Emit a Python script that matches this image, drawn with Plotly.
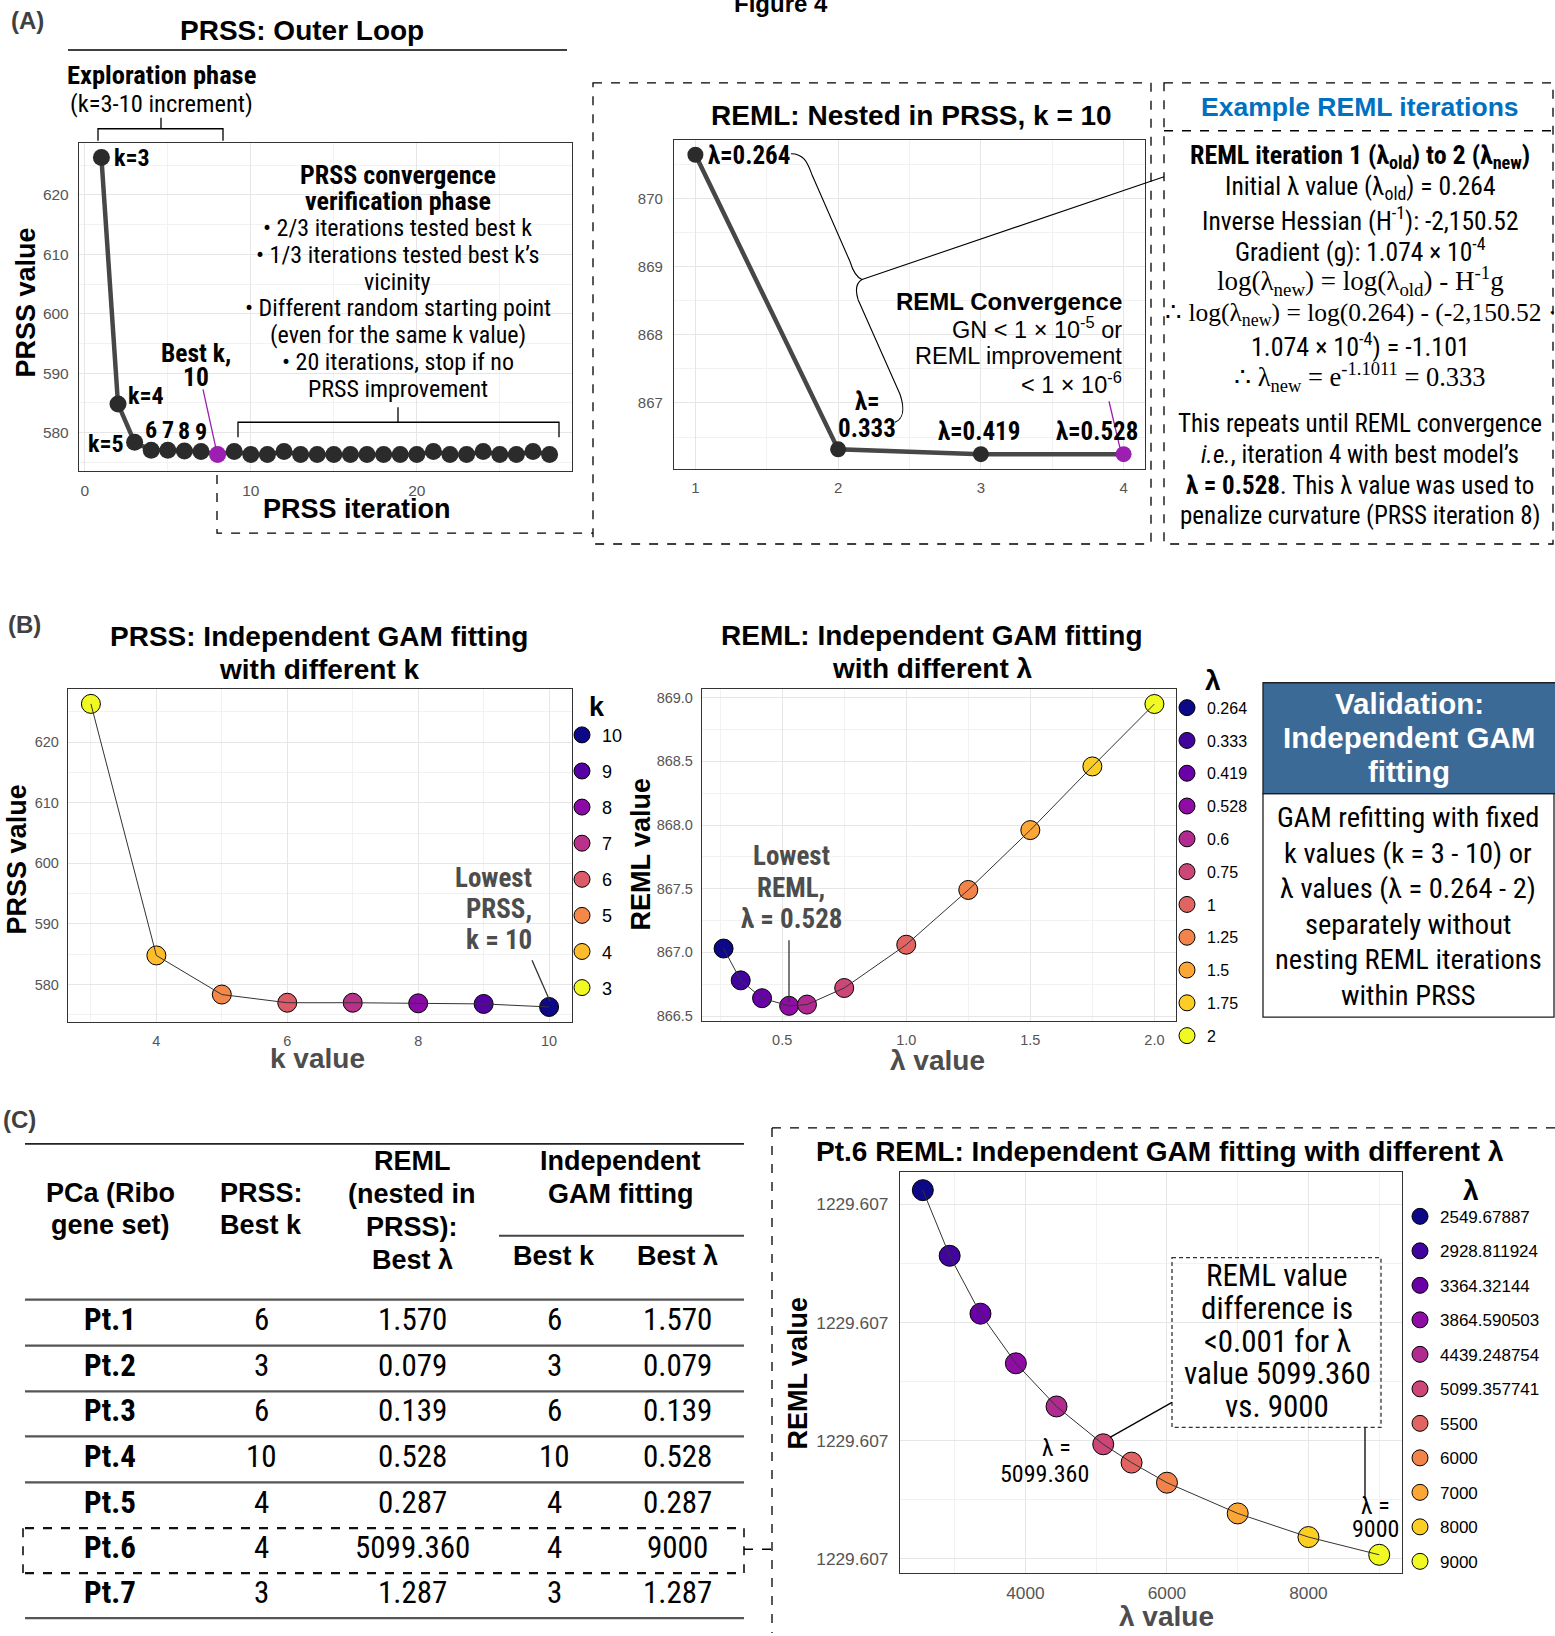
import plotly.graph_objects as go

# ---------------- data ----------------
prss_iteration = list(range(1, 29))
prss_outer_values = [626.3, 584.8, 578.35, 577.0, 577.0, 576.9, 576.8, 576.3,
                     576.8, 576.3, 576.3, 576.8, 576.3, 576.3, 576.3, 576.3,
                     576.3, 576.3, 576.3, 576.3, 576.8, 576.3, 576.3, 576.8,
                     576.3, 576.3, 576.8, 576.3]
best_iteration = 8
explore_labels = ["6", "7", "8", "9"]
explore_label_iters = [4, 5, 6, 7]

reml_iteration = [1, 2, 3, 4]
reml_nested_values = [870.64, 866.32, 866.25, 866.25]

k_values = [3, 4, 5, 6, 7, 8, 9, 10]
prss_k_values = [626.3, 584.8, 578.35, 577.0, 577.0, 576.9, 576.8, 576.3]
k_colors = ["#F0F921", "#FEBC2A", "#F48849", "#DB5C68", "#B93289", "#8B0AA5", "#5402A3", "#0D0887"]

lambda_values = [0.264, 0.333, 0.419, 0.528, 0.6, 0.75, 1.0, 1.25, 1.5, 1.75, 2.0]
lambda_labels = ["0.264", "0.333", "0.419", "0.528", "0.6", "0.75", "1", "1.25", "1.5", "1.75", "2"]
reml_lambda_values = [867.03, 866.78, 866.64, 866.58, 866.59, 866.72, 867.06, 867.49, 867.96, 868.46, 868.95]
plasma11 = ["#0D0887", "#41049D", "#6A00A8", "#8F0DA4", "#B12A90", "#CC4778",
            "#E16462", "#F2844B", "#FCA636", "#FCCE25", "#F0F921"]

pt6_lambda = [2549.67887, 2928.811924, 3364.32144, 3864.590503, 4439.248754, 5099.357741,
              5500, 6000, 7000, 8000, 9000]
pt6_lambda_labels = ["2549.67887", "2928.811924", "3364.32144", "3864.590503", "4439.248754",
                     "5099.357741", "5500", "6000", "7000", "8000", "9000"]
pt6_reml = [1229.607424, 1229.607313, 1229.607215, 1229.607131, 1229.607058, 1229.606994,
            1229.606963, 1229.606929, 1229.606877, 1229.606837, 1229.606807]
pt6_ytick_vals = [1229.6068, 1229.6070, 1229.6072, 1229.6074]
pt6_ytick_text = ["1229.607", "1229.607", "1229.607", "1229.607"]

table_patients = ["Pt.1", "Pt.2", "Pt.3", "Pt.4", "Pt.5", "Pt.6", "Pt.7"]
table_prss_best_k = ["6", "3", "6", "10", "4", "4", "3"]
table_reml_best_lambda = ["1.570", "0.079", "0.139", "0.528", "0.287", "5099.360", "1.287"]
table_gam_best_k = ["6", "3", "6", "10", "4", "4", "3"]
table_gam_best_lambda = ["1.570", "0.079", "0.139", "0.528", "0.287", "9000", "1.287"]

# ---------------- helpers ----------------
W, H = 1555, 1636
def px(x): return x / W
def py(y): return 1 - y / H

NARROW = "Liberation Sans Narrow, Arial Narrow, Roboto Condensed, Liberation Sans, sans-serif"
SANS = "Liberation Sans, Arial, sans-serif"
SERIF = "Liberation Serif, DejaVu Serif, serif"
PURPLE = "#9B1FB0"
DARK = "#2B2B2B"
GRAY = "#4D4D4D"

anns = []
shapes = []

def T(x, y, text, size=23, color="black", family=NARROW, xa="center", ya="middle", bold=False, angle=0):
    if bold:
        text = "<b>" + text + "</b>"
    anns.append(dict(x=px(x), y=py(y), xref="paper", yref="paper", text=text, showarrow=False,
                     font=dict(size=size, color=color, family=family), xanchor=xa, yanchor=ya,
                     textangle=angle))

def L(x0, y0, x1, y1, color="black", width=1.5, dash="solid"):
    shapes.append(dict(type="line", xref="paper", yref="paper", x0=px(x0), y0=py(y0), x1=px(x1), y1=py(y1),
                       line=dict(color=color, width=width, dash=dash)))

def R(x0, y0, x1, y1, color="black", width=1.5, dash="solid", fill=None):
    d = dict(type="rect", xref="paper", yref="paper", x0=px(x0), y0=py(y0), x1=px(x1), y1=py(y1),
             line=dict(color=color, width=width, dash=dash))
    if fill:
        d["fillcolor"] = fill
    shapes.append(d)

def P(segs, color="black", width=1.2, dash="solid"):
    s = ""
    for cmd, pts in segs:
        s += cmd + " " + " ".join(f"{px(a):.5f},{py(b):.5f}" for a, b in pts) + " "
    shapes.append(dict(type="path", xref="paper", yref="paper", path=s.strip(),
                       line=dict(color=color, width=width, dash=dash)))

def poly(pts, **kw):
    P([("M", [pts[0]])] + [("L", [p]) for p in pts[1:]], **kw)

def dom(l, r, t, b):
    return [px(l), px(r)], [py(b), py(t)]

def axis(domain, rng, dtick=None, tick0=0, minor=None, fmt=None, tickvals=None, ticktext=None,
         minor_vals=None, tsize=15, standoff=6):
    a = dict(domain=domain, range=rng, showline=True, mirror=True, linecolor="#333333", linewidth=1.3,
             showgrid=True, gridcolor="#E6E6E6", gridwidth=1.3, zeroline=False, ticks="",
             tickfont=dict(size=tsize, color="#555555", family=SANS), ticklabelstandoff=standoff,
             fixedrange=True)
    if tickvals is not None:
        a.update(tickmode="array", tickvals=tickvals, ticktext=ticktext)
        a["minor"] = dict(showgrid=True, gridcolor="#F2F2F2", gridwidth=1, tickvals=minor_vals)
    else:
        a.update(tickmode="linear", tick0=tick0, dtick=dtick)
        a["minor"] = dict(showgrid=True, gridcolor="#F2F2F2", gridwidth=1, dtick=minor, tick0=tick0)
    if fmt:
        a["tickformat"] = fmt
    return a

fig = go.Figure()

# ---------------- Panel A1: PRSS outer loop ----------------
dx, dy = dom(79, 572, 143, 472)
fig.update_layout(xaxis=axis(dx, [-0.35, 29.35], 10, 0, 5, tsize=15.5, standoff=5),
                  yaxis=axis(dy, [573.5, 628.8], 10, 0, 5, tsize=15.5, standoff=6))
fig.layout.xaxis.anchor = "y"; fig.layout.yaxis.anchor = "x"
a1_colors = [PURPLE if i == best_iteration else DARK for i in prss_iteration]
fig.add_trace(go.Scatter(x=prss_iteration, y=prss_outer_values, mode="lines+markers",
                         line=dict(color="#474747", width=4.5),
                         marker=dict(size=17, color=a1_colors), xaxis="x", yaxis="y", showlegend=False))
for lab, it in zip(explore_labels, explore_label_iters):
    anns.append(dict(x=it, y=prss_outer_values[it - 1], xref="x", yref="y", text="<b>" + lab + "</b>",
                     showarrow=False, yshift=20, font=dict(size=24, family=NARROW, color="black")))
anns.append(dict(x=1, y=prss_outer_values[0], xref="x", yref="y", text="<b>k=3</b>", showarrow=False,
                 xanchor="left", xshift=11, font=dict(size=24, family=NARROW, color="black")))
anns.append(dict(x=2, y=prss_outer_values[1], xref="x", yref="y", text="<b>k=4</b>", showarrow=False,
                 xanchor="left", xshift=8, yshift=8, font=dict(size=24, family=NARROW, color="black")))
anns.append(dict(x=3, y=prss_outer_values[2], xref="x", yref="y", text="<b>k=5</b>", showarrow=False,
                 xanchor="right", xshift=-9, yshift=-2, font=dict(size=24, family=NARROW, color="black")))

# ---------------- Panel A2: REML nested ----------------
dx, dy = dom(674, 1145, 140, 470)
fig.update_layout(xaxis2=axis(dx, [0.85, 4.15], 1, 0, 0.5, tsize=15, standoff=5),
                  yaxis2=axis(dy, [866.03, 870.86], 1, 0, 0.5, tsize=15, standoff=7))
fig.layout.xaxis2.anchor = "y2"; fig.layout.yaxis2.anchor = "x2"
a2_colors = [PURPLE if i == reml_iteration[-1] else DARK for i in reml_iteration]
fig.add_trace(go.Scatter(x=reml_iteration, y=reml_nested_values, mode="lines+markers",
                         line=dict(color="#474747", width=4.5),
                         marker=dict(size=16, color=a2_colors), xaxis="x2", yaxis="y2", showlegend=False))

# ---------------- Panel B1: PRSS vs k ----------------
dx, dy = dom(68, 572, 690, 1024)
fig.update_layout(xaxis3=axis(dx, [2.65, 10.35], 2, 0, 1, tsize=14.5, standoff=5),
                  yaxis3=axis(dy, [573.8, 628.8], 10, 0, 5, tsize=14.5, standoff=5))
fig.layout.xaxis3.anchor = "y3"; fig.layout.yaxis3.anchor = "x3"
for kv, pv, c in sorted(zip(k_values, prss_k_values, k_colors), key=lambda t: -t[0]):
    fig.add_trace(go.Scatter(x=[kv], y=[pv], mode="markers", name=str(kv), legendgroup="k" + str(kv),
                             marker=dict(size=19, color=c, line=dict(color="black", width=1)),
                             xaxis="x3", yaxis="y3", legend="legend"))
fig.add_trace(go.Scatter(x=k_values, y=prss_k_values, mode="lines", line=dict(color="#333333", width=1),
                         xaxis="x3", yaxis="y3", showlegend=False))

# ---------------- Panel B2: REML vs lambda ----------------
dx, dy = dom(702, 1176, 690, 1023)
fig.update_layout(xaxis4=axis(dx, [0.177, 2.087], 0.5, 0, 0.25, fmt=".1f", tsize=14.5, standoff=5),
                  yaxis4=axis(dy, [866.46, 869.07], 0.5, 0, 0.25, fmt=".1f", tsize=14.5, standoff=5))
fig.layout.xaxis4.anchor = "y4"; fig.layout.yaxis4.anchor = "x4"
for lv, rv, lab, c in zip(lambda_values, reml_lambda_values, lambda_labels, plasma11):
    fig.add_trace(go.Scatter(x=[lv], y=[rv], mode="markers", name=lab, legendgroup="l" + lab,
                             marker=dict(size=19, color=c, line=dict(color="black", width=1)),
                             xaxis="x4", yaxis="y4", legend="legend2"))
fig.add_trace(go.Scatter(x=lambda_values, y=reml_lambda_values, mode="lines", line=dict(color="#333333", width=1),
                         xaxis="x4", yaxis="y4", showlegend=False))

# ---------------- Panel C: Pt.6 ----------------
dx, dy = dom(900, 1402, 1174, 1576)
minor_y = [v + 0.0001 for v in pt6_ytick_vals[:-1]] + [pt6_ytick_vals[0] - 0.0001]
fig.update_layout(xaxis5=axis(dx, [2227, 9322], 2000, 0, 1000, tsize=17.3, standoff=4),
                  yaxis5=axis(dy, [1229.606776, 1229.607455], tickvals=pt6_ytick_vals,
                              ticktext=pt6_ytick_text, minor_vals=minor_y, tsize=17.3, standoff=7))
fig.layout.xaxis5.anchor = "y5"; fig.layout.yaxis5.anchor = "x5"
for lv, rv, lab, c in zip(pt6_lambda, pt6_reml, pt6_lambda_labels, plasma11):
    fig.add_trace(go.Scatter(x=[lv], y=[rv], mode="markers", name=lab, legendgroup="p" + lab,
                             marker=dict(size=21, color=c, line=dict(color="black", width=1)),
                             xaxis="x5", yaxis="y5", legend="legend3"))
fig.add_trace(go.Scatter(x=pt6_lambda, y=pt6_reml, mode="lines", line=dict(color="#333333", width=1),
                         xaxis="x5", yaxis="y5", showlegend=False))

# ---------------- Panel A annotations ----------------
T(781, 4, "Figure 4", 24, bold=True, family=SANS)
T(27, 21, "(A)", 24, color="#404040", bold=True, family=SANS)
T(302, 31, "PRSS: Outer Loop", 28, bold=True, family=SANS)
L(68, 50, 567, 50, width=1.5)
T(161, 75, "Exploration phase", 26.5, bold=True)
T(161, 104, "(k=3-10 increment)", 24.5)
poly([(98, 141), (98, 129), (223, 129), (223, 141)], width=1.3)
L(161, 129, 161, 118, width=1.3)
T(196, 354, "Best k,", 25.5, bold=True)
T(196, 378, "10", 25.5, bold=True)
L(203, 390, 217, 454, color=PURPLE, width=1.3)
blk = [("PRSS convergence", True), ("verification phase", True), ("• 2/3 iterations tested best k", False),
       ("• 1/3 iterations tested best k’s", False), ("vicinity", False),
       ("• Different random starting point", False), ("(even for the same k value)", False),
       ("• 20 iterations, stop if no", False), ("PRSS improvement", False)]
for i, (t, b) in enumerate(blk):
    T(398, 175 + i * 26.8, t, 26 if b else 24, bold=b)
poly([(238, 438), (238, 423), (559, 423), (559, 438)], width=1.3)
L(398, 423, 398, 408, width=1.3)
T(26, 303, "PRSS value", 27, bold=True, family=SANS, angle=-90)
T(357, 510, "PRSS iteration", 27, bold=True, family=SANS)
poly([(217, 476), (217, 534), (593, 534)], width=1.3, dash="dash")

# REML nested
R(593, 83, 1151, 545, width=1.3, dash="dash")
T(911, 116, "REML: Nested in PRSS, k = 10", 28, bold=True, family=SANS)
T(706, 156, "λ=0.264", 25, bold=True, xa="left")
T(867, 402, "λ=", 25, bold=True)
T(867, 429, "0.333", 25, bold=True)
T(979, 432, "λ=0.419", 25, bold=True)
T(1097, 432, "λ=0.528", 25, bold=True)
T(1124, 302, "REML Convergence", 24, bold=True, xa="right", family=SANS)
T(1124, 329, "GN &lt; 1 × 10<sup>-5</sup> or", 23.5, xa="right", family=SANS)
T(1124, 357, "REML improvement", 23.5, xa="right", family=SANS)
T(1124, 384, "&lt; 1 × 10<sup>-6</sup>", 23.5, xa="right", family=SANS)
L(1109, 402, 1120, 449, color=PURPLE, width=1.3)
P([("M", [(791, 154)]), ("C", [(805, 154), (808, 165), (812, 175)]), ("L", [(850, 262)]),
   ("C", [(853, 272), (857, 278), (862, 280)]), ("C", [(857, 283), (855, 290), (858, 300)]),
   ("L", [(900, 395)]), ("C", [(905, 410), (903, 420), (895, 423)])], width=1.1)
L(862, 280, 1164, 177, width=1.1)

# Example REML iterations
R(1164, 83, 1553, 545, width=1.3, dash="dash")
L(1164, 131, 1553, 131, width=1.3, dash="dash")
T(1360, 107, "Example REML iterations", 26.5, color="#0070C0", bold=True, family=SANS)
ex_lines = [
    (157, "<b>REML iteration 1 (λ<sub>old</sub>) to 2 (λ<sub>new</sub>)</b>", NARROW, 26),
    (188, "Initial λ value (λ<sub>old</sub>) = 0.264", NARROW, 25.5),
    (219, "Inverse Hessian (H<sup>-1</sup>): -2,150.52", NARROW, 25.5),
    (250, "Gradient (g): 1.074 × 10<sup>-4</sup>", NARROW, 25.5),
    (282, "log(λ<sub>new</sub>) = log(λ<sub>old</sub>) - H<sup>-1</sup>g", SERIF, 27),
    (315, "∴ log(λ<sub>new</sub>) = log(0.264) - (-2,150.52 ·", SERIF, 25.5),
    (346, "1.074 × 10<sup>-4</sup>) = -1.101", NARROW, 26),
    (378, "∴ λ<sub>new</sub> = e<sup>-1.1011</sup> = 0.333", SERIF, 26.5),
    (424, "This repeats until REML convergence", NARROW, 25),
    (455, "<i>i.e.</i>, iteration 4 with best model’s", NARROW, 25),
    (486, "<b>λ = 0.528</b>. This λ value was used to", NARROW, 25),
    (516, "penalize curvature (PRSS iteration 8)", NARROW, 25),
]
for y, t, fam, sz in ex_lines:
    T(1360, y, t, sz, family=fam)

# ---------------- Panel B annotations ----------------
T(24, 626, "(B)", 24, color="#404040", bold=True, family=SANS)
T(319, 638, "PRSS: Independent GAM fitting", 28, bold=True, family=SANS)
T(319, 671, "with different k", 28, bold=True, family=SANS)
T(17, 861, "PRSS value", 27, bold=True, family=SANS, angle=-90)
T(317, 1060, "k value", 28, bold=True, family=SANS, color=GRAY)
for i, t in enumerate(["Lowest", "PRSS,", "k = 10"]):
    T(534, 880 + i * 31, t, 27, bold=True, color=GRAY, xa="right")
L(532, 962, 550, 1003, color="#333333", width=1.3)
T(597, 708, "k", 27, bold=True, family=SANS)

T(932, 637, "REML: Independent GAM fitting", 28, bold=True, family=SANS)
T(932, 670, "with different λ", 28, bold=True, family=SANS)
T(641, 856, "REML value", 27, bold=True, family=SANS, angle=-90)
T(937, 1062, "λ value", 28, bold=True, family=SANS, color=GRAY)
for i, t in enumerate(["Lowest", "REML,", "λ = 0.528"]):
    T(791, 858 + i * 31.5, t, 27, bold=True, color=GRAY)
L(789, 942, 789, 1004, color="#333333", width=1.3)
T(1213, 682, "λ", 28, bold=True, family=SANS)

# Validation box
R(1263, 684, 1556, 795, color="#1F1F1F", width=1.3, fill="#3C6A96")
R(1263, 795, 1554, 1019, color="#1F1F1F", width=1.3)
for i, t in enumerate(["Validation:", "Independent GAM", "fitting"]):
    T(1409, 705 + i * 34, t, 29.5, bold=True, color="white", family=SANS)
for i, t in enumerate(["GAM refitting with fixed", "k values (k = 3 - 10) or", "λ values (λ = 0.264 - 2)",
                       "separately without", "nesting REML iterations", "within PRSS"]):
    T(1408, 819 + i * 35.6, t, 28.5)

# ---------------- Panel C annotations ----------------
T(19, 1122, "(C)", 24, color="#404040", bold=True, family=SANS)
L(25, 1146, 744, 1146, color="#222222", width=1.8)
cols = [110, 261, 412, 554, 677]
HS = 27
T(110, 1195, "PCa (Ribo", HS, bold=True, family=SANS); T(110, 1227, "gene set)", HS, bold=True, family=SANS)
T(261, 1195, "PRSS:", HS, bold=True, family=SANS); T(261, 1227, "Best k", HS, bold=True, family=SANS)
for i, t in enumerate(["REML", "(nested in", "PRSS):", "Best λ"]):
    T(412, 1163 + i * 33, t, HS, bold=True, family=SANS)
T(620, 1163, "Independent", HS, bold=True, family=SANS); T(620, 1196, "GAM fitting", HS, bold=True, family=SANS)
L(499, 1238, 744, 1238, color="#444444", width=1.8)
T(554, 1258, "Best k", HS, bold=True, family=SANS); T(677, 1258, "Best λ", HS, bold=True, family=SANS)
row_lines = [1302, 1348, 1394, 1439, 1485, 1531, 1576, 1621]
for j, yl in enumerate(row_lines):
    dash = "dash" if yl in (1531, 1576) else "solid"
    col = "#111111" if dash == "dash" else "#555555"
    L(25, yl, 744, yl, color=col, width=2.2, dash=dash)
for i in range(len(table_patients)):
    yc = (row_lines[i] + row_lines[i + 1]) / 2 - 3
    T(cols[0], yc, table_patients[i], 31, bold=True)
    T(cols[1], yc, table_prss_best_k[i], 31)
    T(cols[2], yc, table_reml_best_lambda[i], 31)
    T(cols[3], yc, table_gam_best_k[i], 31)
    T(cols[4], yc, table_gam_best_lambda[i], 31)
L(23, 1531, 23, 1576, width=1.5, dash="dash")
L(744, 1531, 744, 1576, width=1.5, dash="dash")
L(744, 1552, 772, 1552, width=1.5, dash="dash")

# Pt.6 panel
L(772, 1130, 1555, 1130, width=1.3, dash="dash")
L(772, 1130, 772, 1636, width=1.3, dash="dash")
T(1160, 1154, "Pt.6 REML: Independent GAM fitting with different λ", 28, bold=True, family=SANS)
T(1471, 1193, "λ", 28, bold=True, family=SANS)
R(1172, 1260, 1381, 1430, width=1.3, dash="4px,3px", color="#333333")
for i, t in enumerate(["REML value", "difference is", "&lt;0.001 for λ", "value 5099.360", "vs. 9000"]):
    T(1277, 1278 + i * 32.8, t, 31)
L(1172, 1405, 1110, 1440, width=1.3)
L(1365, 1430, 1365, 1500, width=1.3)
T(1073, 1451, "λ =", 24, xa="right")
T(1044, 1477, "5099.360", 24)
T(1375, 1509, "λ =", 24)
T(1375, 1532, "9000", 24)
T(798, 1375, "REML value", 27, bold=True, family=SANS, angle=-90)
T(1166, 1619, "λ value", 28, bold=True, family=SANS, color=GRAY)

# ---------------- layout ----------------
def legend(x, ytop, size, gap):
    return dict(x=px(x), y=py(ytop), xref="paper", yref="paper", xanchor="left", yanchor="top",
                font=dict(size=size, family=SANS, color="black"), itemsizing="trace",
                tracegroupgap=gap, traceorder="grouped", bgcolor="rgba(0,0,0,0)", itemwidth=30)

fig.update_layout(
    width=W, height=H, margin=dict(l=0, r=0, t=0, b=0), autosize=False,
    paper_bgcolor="white", plot_bgcolor="white",
    annotations=anns, shapes=shapes,
    legend=legend(562, 718, 18, 9.7),
    legend2=legend(1167, 692, 16, 9.0),
    legend3=legend(1400, 1201, 17, 9.4),
)
fig.write_html("out.html", config={"displayModeBar": False},
               post_script="document.body.style.margin='0';document.body.style.overflow='hidden';")
